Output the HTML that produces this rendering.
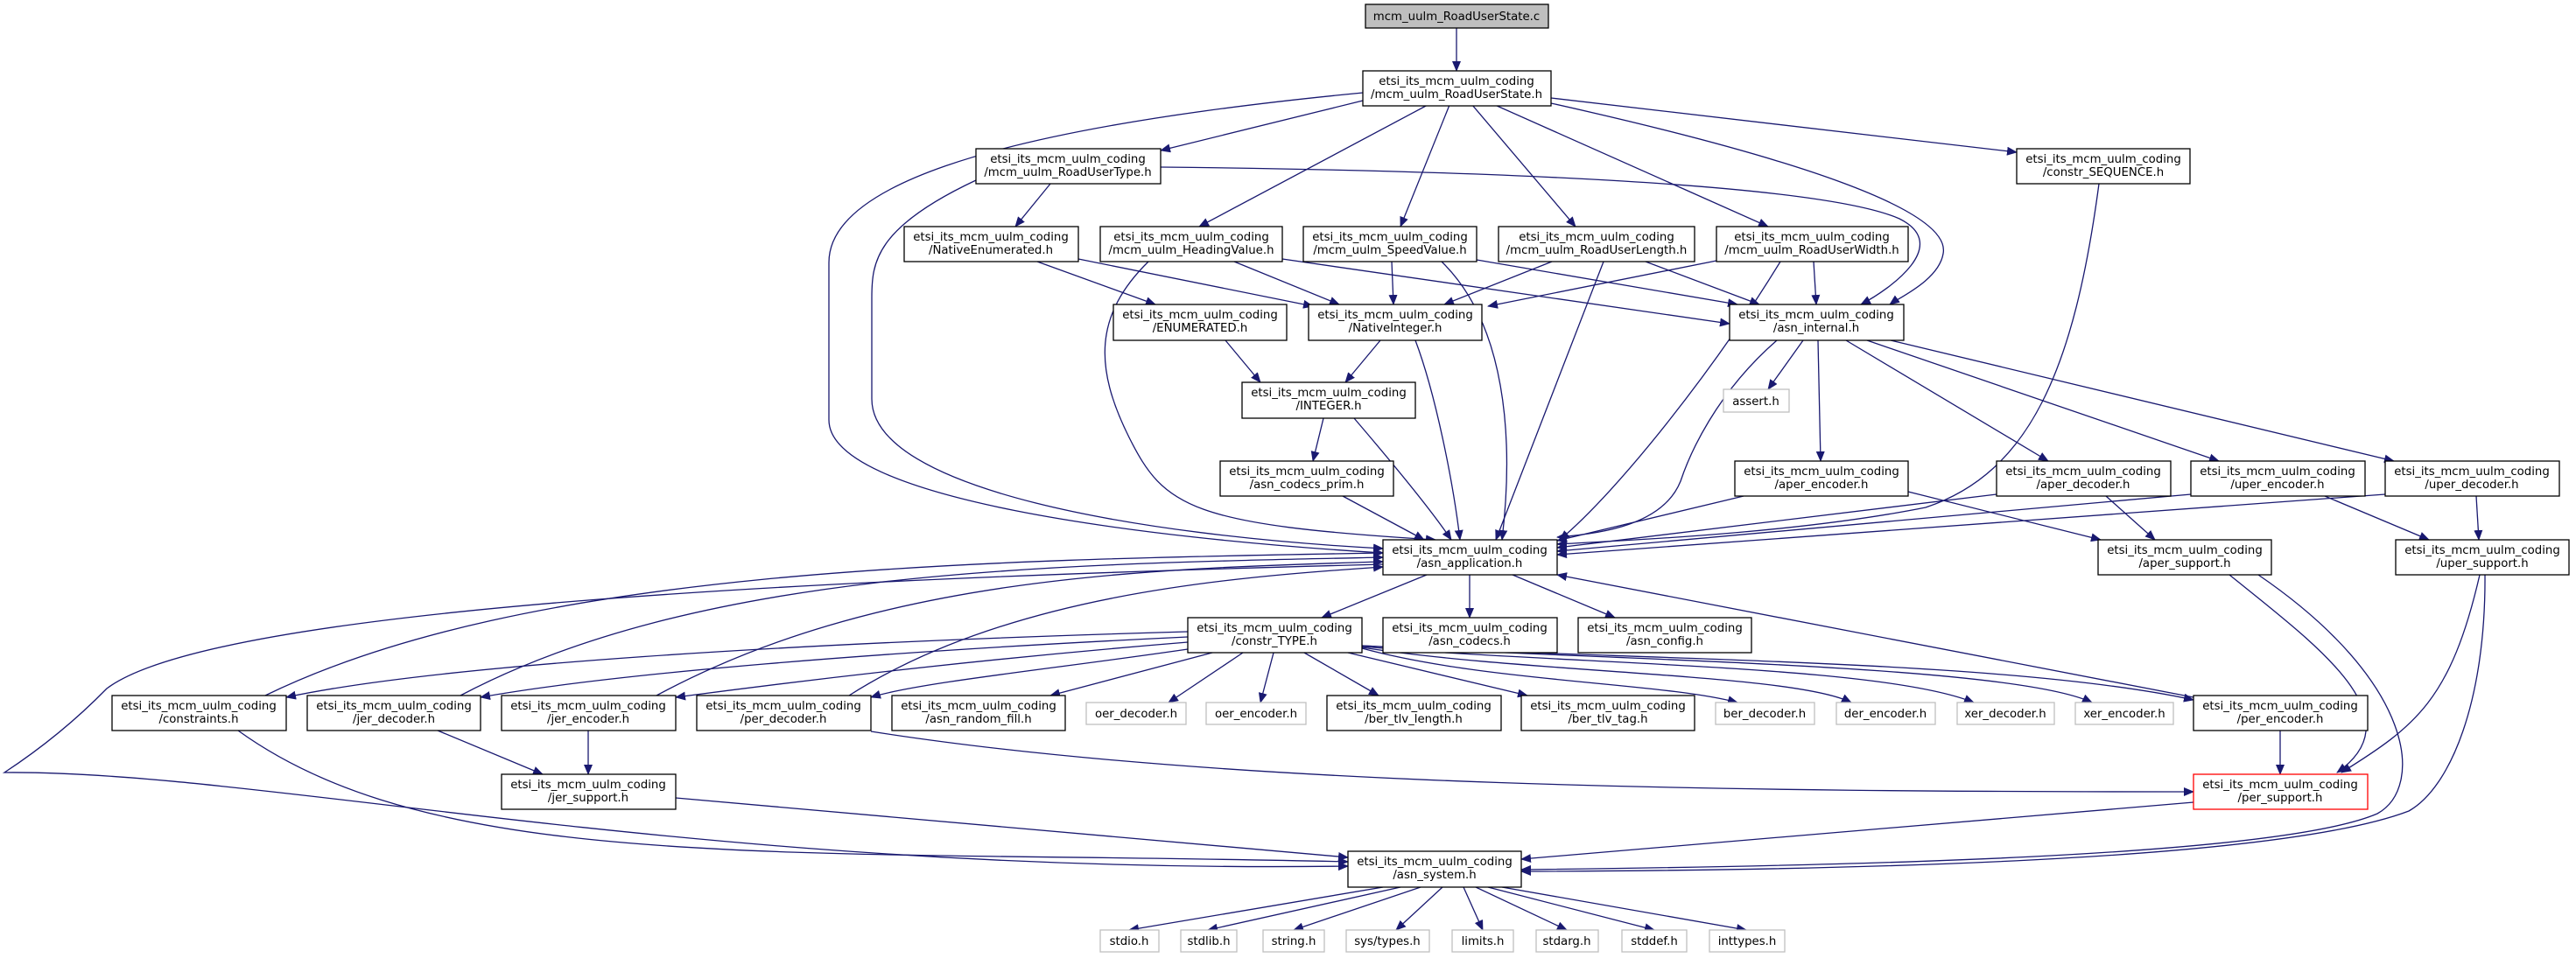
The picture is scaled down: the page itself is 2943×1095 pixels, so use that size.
<!DOCTYPE html>
<html><head><meta charset="utf-8"><style>
html,body{margin:0;padding:0;background:#fff;}
svg{display:block;}
text{font-family:"DejaVu Sans","Liberation Sans",sans-serif;font-size:13.3px;fill:#000;text-anchor:middle;}
.n{fill:#fff;stroke:#000;stroke-width:1.3;}
.g{fill:#fff;stroke:#bfbfbf;stroke-width:1.3;}
.r{fill:#fff;stroke:#ff0000;stroke-width:1.3;}
.e{fill:none;stroke:#191970;stroke-width:1.3;}
</style></head><body>
<svg width="2943" height="1095" viewBox="0 0 2943 1095" xmlns="http://www.w3.org/2000/svg">
<defs>
<marker id="a" markerWidth="12" markerHeight="10" refX="11" refY="5" orient="auto" markerUnits="userSpaceOnUse">
<path d="M0,0 L12,5 L0,10 Z" fill="#191970"/></marker>
</defs>
<g class="e" marker-end="url(#a)">
<path d="M1664,32 L1664,81"/>
<path d="M1557,115 L1326,172"/>
<path d="M1631,120 L1370,259"/>
<path d="M1656,120 L1600,259"/>
<path d="M1682,120 L1800,259"/>
<path d="M1708,120 L2020,259"/>
<path d="M1772,112 L2304,174"/>
<path d="M1772,118 C2050,180 2230,240 2220,290 C2215,320 2170,340 2159,348"/>
<path d="M1557,106 C1100,150 947,220 947,300 L947,480 C947,570 1300,615 1580,632"/>
<path d="M1115,206 C1000,260 996,300 996,340 L996,456 C996,560 1300,612 1580,627"/>
<path d="M1326,191 C1700,195 2080,210 2170,250 C2230,280 2160,330 2126,348"/>
<path d="M1200,210 L1160,259"/>
<path d="M1185,299 L1320,348"/>
<path d="M1232,296 L1500,350"/>
<path d="M1410,299 L1530,348"/>
<path d="M1465,296 L1976,370"/>
<path d="M1312,299 C1250,360 1250,420 1290,500 C1330,580 1360,600 1640,617"/>
<path d="M1590,299 L1592,348"/>
<path d="M1687,297 L1985,348"/>
<path d="M1647,299 C1720,370 1730,500 1716,617"/>
<path d="M1773,299 L1650,348"/>
<path d="M1880,299 L2010,348"/>
<path d="M1832,299 L1709,617"/>
<path d="M1966,297 L1700,350"/>
<path d="M2072,299 L2075,348"/>
<path d="M2034,299 C1960,420 1850,560 1782,617"/>
<path d="M2398,210 C2370,420 2320,540 2200,580 C2050,610 1850,618 1779,622"/>
<path d="M1400,389 L1440,437"/>
<path d="M1577,389 L1537,437"/>
<path d="M1617,389 C1640,450 1660,550 1668,617"/>
<path d="M1512,478 L1500,527"/>
<path d="M1547,478 C1600,540 1640,590 1658,617"/>
<path d="M1534,567 L1627,617"/>
<path d="M2030,389 C1960,450 1930,520 1920,550 C1900,600 1830,610 1779,614"/>
<path d="M2060,389 L2020,445"/>
<path d="M2077,389 L2080,527"/>
<path d="M2109,389 L2340,527"/>
<path d="M2133,389 L2535,527"/>
<path d="M2160,389 L2735,527"/>
<path d="M1992,567 L1779,618"/>
<path d="M2281,565 L1779,626"/>
<path d="M2503,565 L1779,630"/>
<path d="M2725,565 L1779,634"/>
<path d="M2180,562 L2400,617"/>
<path d="M2406,567 L2462,617"/>
<path d="M2656,567 L2775,617"/>
<path d="M2829,567 L2832,617"/>
<path d="M1630,657 L1510,706"/>
<path d="M1679,657 L1679,706"/>
<path d="M1728,657 L1845,706"/>
<path d="M2506,797 L1779,657"/>
<path d="M303,795 C600,650 1100,640 1580,632"/>
<path d="M526,795 C800,650 1200,645 1580,637"/>
<path d="M750,795 C1000,660 1300,650 1580,642"/>
<path d="M970,795 C1150,680 1400,660 1580,648"/>
<path d="M1357,722 C900,735 500,760 327,797"/>
<path d="M1357,728 C1000,745 700,770 549,797"/>
<path d="M1357,734 C1100,755 900,780 772,797"/>
<path d="M1357,742 C1200,765 1050,780 995,797"/>
<path d="M1385,746 L1200,795"/>
<path d="M1420,746 L1335,803"/>
<path d="M1455,746 L1440,803"/>
<path d="M1490,746 L1575,795"/>
<path d="M1540,746 L1745,795"/>
<path d="M1556,741 C1700,780 1900,780 1985,803"/>
<path d="M1556,740 C1750,770 2050,770 2115,803"/>
<path d="M1556,739 C1800,760 2150,760 2255,803"/>
<path d="M1556,738 C1900,755 2300,755 2506,800"/>
<path d="M1556,738 C1850,755 2300,760 2390,803"/>
<path d="M500,835 L620,885"/>
<path d="M672,835 L672,885"/>
<path d="M2605,835 L2605,885"/>
<path d="M995,836 C1400,900 2000,905 2506,905"/>
<path d="M2547,657 C2650,740 2760,820 2670,883"/>
<path d="M2833,657 C2800,800 2760,830 2675,883"/>
<path d="M1580,645 C1000,660 250,690 122,787 C80,830 40,860 5,883 C300,880 800,1000 1540,990"/>
<path d="M272,835 C500,1000 900,970 1540,985"/>
<path d="M772,912 L1540,980"/>
<path d="M2506,917 L1738,982"/>
<path d="M2580,657 C2760,780 2770,900 2716,930 C2600,980 2100,990 1738,994"/>
<path d="M2839,657 C2840,800 2800,900 2752,927 C2600,985 2100,995 1738,996"/>
<path d="M1580,1014 L1290,1063"/>
<path d="M1600,1014 L1380,1063"/>
<path d="M1623,1014 L1478,1063"/>
<path d="M1648,1014 L1595,1063"/>
<path d="M1672,1014 L1694,1063"/>
<path d="M1686,1014 L1790,1063"/>
<path d="M1700,1014 L1890,1063"/>
<path d="M1716,1014 L1995,1063"/>
</g>
<rect x="1560" y="5" width="209" height="27" fill="#bfbfbf" stroke="#000" stroke-width="1.3"/>
<text x="1664" y="23">mcm_uulm_RoadUserState.c</text>
<g>
<rect class="n" x="1557" y="81" width="215" height="40"/><text x="1664" y="97">etsi_its_mcm_uulm_coding</text><text x="1664" y="112">/mcm_uulm_RoadUserState.h</text>
<rect class="n" x="1115" y="170" width="211" height="40"/><text x="1220" y="186">etsi_its_mcm_uulm_coding</text><text x="1220" y="201">/mcm_uulm_RoadUserType.h</text>
<rect class="n" x="2304" y="170" width="198" height="40"/><text x="2403" y="186">etsi_its_mcm_uulm_coding</text><text x="2403" y="201">/constr_SEQUENCE.h</text>
<rect class="n" x="1033" y="259" width="199" height="40"/><text x="1132" y="275">etsi_its_mcm_uulm_coding</text><text x="1132" y="290">/NativeEnumerated.h</text>
<rect class="n" x="1257" y="259" width="208" height="40"/><text x="1361" y="275">etsi_its_mcm_uulm_coding</text><text x="1361" y="290">/mcm_uulm_HeadingValue.h</text>
<rect class="n" x="1489" y="259" width="198" height="40"/><text x="1588" y="275">etsi_its_mcm_uulm_coding</text><text x="1588" y="290">/mcm_uulm_SpeedValue.h</text>
<rect class="n" x="1712" y="259" width="224" height="40"/><text x="1824" y="275">etsi_its_mcm_uulm_coding</text><text x="1824" y="290">/mcm_uulm_RoadUserLength.h</text>
<rect class="n" x="1961" y="259" width="219" height="40"/><text x="2070" y="275">etsi_its_mcm_uulm_coding</text><text x="2070" y="290">/mcm_uulm_RoadUserWidth.h</text>
<rect class="n" x="1272" y="348" width="198" height="41"/><text x="1371" y="364">etsi_its_mcm_uulm_coding</text><text x="1371" y="379">/ENUMERATED.h</text>
<rect class="n" x="1495" y="348" width="198" height="41"/><text x="1594" y="364">etsi_its_mcm_uulm_coding</text><text x="1594" y="379">/NativeInteger.h</text>
<rect class="n" x="1976" y="348" width="199" height="41"/><text x="2075" y="364">etsi_its_mcm_uulm_coding</text><text x="2075" y="379">/asn_internal.h</text>
<rect class="n" x="1419" y="437" width="198" height="41"/><text x="1518" y="453">etsi_its_mcm_uulm_coding</text><text x="1518" y="468">/INTEGER.h</text>
<rect class="g" x="1969" y="445" width="75" height="26"/><text x="2006" y="463">assert.h</text>
<rect class="n" x="1394" y="527" width="198" height="40"/><text x="1493" y="543">etsi_its_mcm_uulm_coding</text><text x="1493" y="558">/asn_codecs_prim.h</text>
<rect class="n" x="1982" y="527" width="198" height="40"/><text x="2081" y="543">etsi_its_mcm_uulm_coding</text><text x="2081" y="558">/aper_encoder.h</text>
<rect class="n" x="2281" y="527" width="199" height="40"/><text x="2380" y="543">etsi_its_mcm_uulm_coding</text><text x="2380" y="558">/aper_decoder.h</text>
<rect class="n" x="2503" y="527" width="199" height="40"/><text x="2602" y="543">etsi_its_mcm_uulm_coding</text><text x="2602" y="558">/uper_encoder.h</text>
<rect class="n" x="2725" y="527" width="199" height="40"/><text x="2824" y="543">etsi_its_mcm_uulm_coding</text><text x="2824" y="558">/uper_decoder.h</text>
<rect class="n" x="1580" y="617" width="199" height="40"/><text x="1679" y="633">etsi_its_mcm_uulm_coding</text><text x="1679" y="648">/asn_application.h</text>
<rect class="n" x="2397" y="617" width="198" height="40"/><text x="2496" y="633">etsi_its_mcm_uulm_coding</text><text x="2496" y="648">/aper_support.h</text>
<rect class="n" x="2737" y="617" width="198" height="40"/><text x="2836" y="633">etsi_its_mcm_uulm_coding</text><text x="2836" y="648">/uper_support.h</text>
<rect class="n" x="1357" y="706" width="199" height="40"/><text x="1456" y="722">etsi_its_mcm_uulm_coding</text><text x="1456" y="737">/constr_TYPE.h</text>
<rect class="n" x="1580" y="706" width="199" height="40"/><text x="1679" y="722">etsi_its_mcm_uulm_coding</text><text x="1679" y="737">/asn_codecs.h</text>
<rect class="n" x="1803" y="706" width="198" height="40"/><text x="1902" y="722">etsi_its_mcm_uulm_coding</text><text x="1902" y="737">/asn_config.h</text>
<rect class="n" x="128" y="795" width="199" height="40"/><text x="227" y="811">etsi_its_mcm_uulm_coding</text><text x="227" y="826">/constraints.h</text>
<rect class="n" x="351" y="795" width="198" height="40"/><text x="450" y="811">etsi_its_mcm_uulm_coding</text><text x="450" y="826">/jer_decoder.h</text>
<rect class="n" x="573" y="795" width="199" height="40"/><text x="672" y="811">etsi_its_mcm_uulm_coding</text><text x="672" y="826">/jer_encoder.h</text>
<rect class="n" x="796" y="795" width="199" height="40"/><text x="895" y="811">etsi_its_mcm_uulm_coding</text><text x="895" y="826">/per_decoder.h</text>
<rect class="n" x="1019" y="795" width="198" height="40"/><text x="1118" y="811">etsi_its_mcm_uulm_coding</text><text x="1118" y="826">/asn_random_fill.h</text>
<rect class="g" x="1241" y="803" width="114" height="25"/><text x="1298" y="820">oer_decoder.h</text>
<rect class="g" x="1378" y="803" width="114" height="25"/><text x="1435" y="820">oer_encoder.h</text>
<rect class="n" x="1516" y="795" width="199" height="40"/><text x="1615" y="811">etsi_its_mcm_uulm_coding</text><text x="1615" y="826">/ber_tlv_length.h</text>
<rect class="n" x="1738" y="795" width="198" height="40"/><text x="1837" y="811">etsi_its_mcm_uulm_coding</text><text x="1837" y="826">/ber_tlv_tag.h</text>
<rect class="g" x="1960" y="803" width="113" height="25"/><text x="2016" y="820">ber_decoder.h</text>
<rect class="g" x="2098" y="803" width="113" height="25"/><text x="2154" y="820">der_encoder.h</text>
<rect class="g" x="2236" y="803" width="111" height="25"/><text x="2291" y="820">xer_decoder.h</text>
<rect class="g" x="2371" y="803" width="112" height="25"/><text x="2427" y="820">xer_encoder.h</text>
<rect class="n" x="2506" y="795" width="199" height="40"/><text x="2605" y="811">etsi_its_mcm_uulm_coding</text><text x="2605" y="826">/per_encoder.h</text>
<rect class="n" x="573" y="885" width="199" height="40"/><text x="672" y="901">etsi_its_mcm_uulm_coding</text><text x="672" y="916">/jer_support.h</text>
<rect class="r" x="2506" y="885" width="199" height="40"/><text x="2605" y="901">etsi_its_mcm_uulm_coding</text><text x="2605" y="916">/per_support.h</text>
<rect class="n" x="1540" y="973" width="198" height="41"/><text x="1639" y="989">etsi_its_mcm_uulm_coding</text><text x="1639" y="1004">/asn_system.h</text>
<rect class="g" x="1257" y="1063" width="67" height="25"/><text x="1290" y="1080">stdio.h</text>
<rect class="g" x="1349" y="1063" width="64" height="25"/><text x="1381" y="1080">stdlib.h</text>
<rect class="g" x="1443" y="1063" width="70" height="25"/><text x="1478" y="1080">string.h</text>
<rect class="g" x="1538" y="1063" width="95" height="25"/><text x="1585" y="1080">sys/types.h</text>
<rect class="g" x="1659" y="1063" width="70" height="25"/><text x="1694" y="1080">limits.h</text>
<rect class="g" x="1755" y="1063" width="71" height="25"/><text x="1790" y="1080">stdarg.h</text>
<rect class="g" x="1853" y="1063" width="74" height="25"/><text x="1890" y="1080">stddef.h</text>
<rect class="g" x="1953" y="1063" width="86" height="25"/><text x="1996" y="1080">inttypes.h</text>
</g>
</svg>
</body></html>
